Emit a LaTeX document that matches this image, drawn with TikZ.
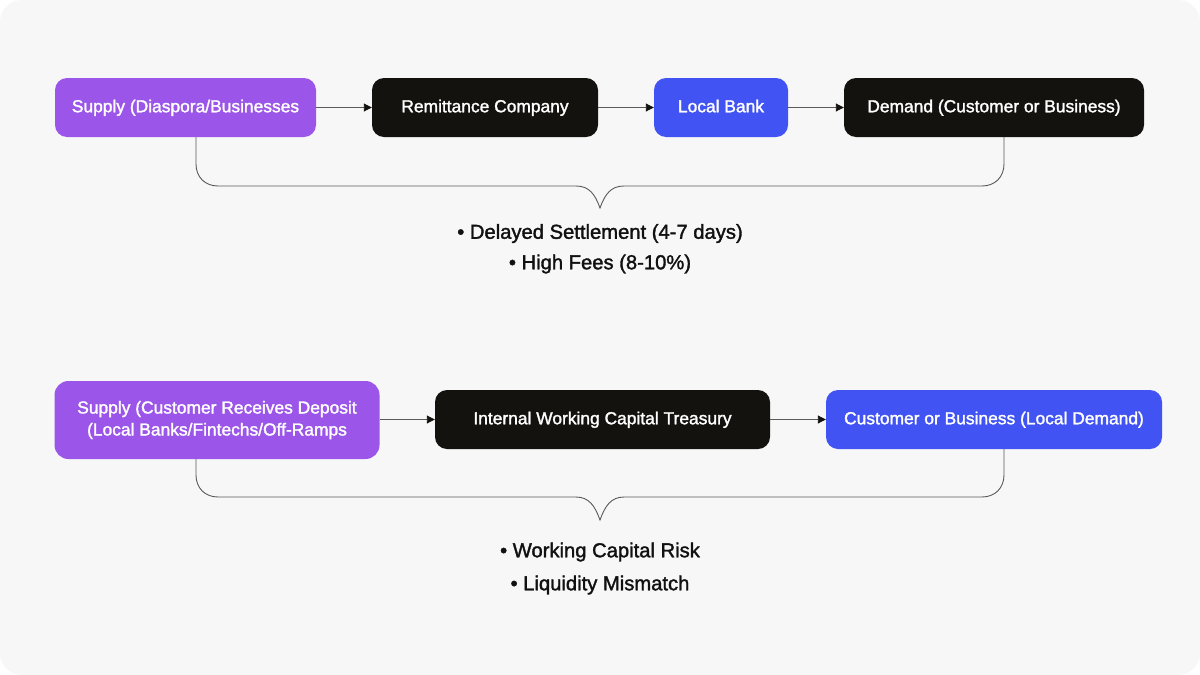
\documentclass[tikz,border=0pt]{standalone}
\usepackage{fontspec}
\setmainfont{Liberation Sans}
\newfontfamily\medfont{Liberation Sans}[FakeBold=1.6]
\usetikzlibrary{arrows.meta,calc}
\definecolor{bgc}{HTML}{F7F7F7}
\definecolor{purp}{HTML}{9B56E9}
\definecolor{blk}{HTML}{13120E}
\definecolor{blu}{HTML}{4153F3}
\definecolor{linec}{HTML}{5A5A5A}
\definecolor{txt}{HTML}{111111}
\tikzset{
  boxbase/.style={rounded corners=12pt, inner sep=0pt, text=white,
    font=\medfont\fontsize{17.4}{22}\selectfont, align=center},
  box/.style={boxbase, text height=13pt, text depth=3.5pt},
  pbox/.style={box, fill=purp},
  kbox/.style={box, fill=blk},
  bbox/.style={box, fill=blu},
  pbox2/.style={boxbase, fill=purp},
  flow/.style={draw=linec, line width=0.9pt,
    -{Triangle[length=8pt,width=8pt,color=blk]}},
  brace/.style={draw=linec, line width=0.9pt},
  note/.style={text=txt, font=\medfont\fontsize{20.2}{22}\selectfont, inner sep=0pt,
    text height=14.5pt, text depth=4pt}
}
\begin{document}
\begin{tikzpicture}[x=1pt,y=-1pt]
\useasboundingbox (0,0) rectangle (1200,675);
\fill[bgc, rounded corners=22pt] (0,0) rectangle (1200,675);

% row 1
\node[pbox, minimum width=261pt, minimum height=59pt] (sup1) at (185.5,107.5) {Supply (Diaspora/Businesses};
\node[kbox, minimum width=226pt, minimum height=59pt] (rem) at (485,107.5) {Remittance Company};
\node[bbox, minimum width=134pt, minimum height=59pt] (bank) at (721,107.5) {Local Bank};
\node[kbox, minimum width=300pt, minimum height=59pt] (dem) at (994,107.5) {Demand (Customer or Business)};
\draw[flow] (sup1) -- (rem);
\draw[flow] (rem) -- (bank);
\draw[flow] (bank) -- (dem);

\coordinate (xl) at (196,0);
\coordinate (xr) at (1004,0);
\draw[brace] (sup1.south -| xl) -- (196,164)
  .. controls (196,177) and (205,186) .. (218,186) -- (576,186)
  .. controls (589,186) and (595,194) .. (600,208)
  .. controls (605,194) and (611,186) .. (624,186) -- (982,186)
  .. controls (995,186) and (1004,177) .. (1004,164) -- (dem.south -| xr);

\node[note] (n1) at (600,233.5) {• Delayed Settlement (4-7 days)};
\node[note] (n2) at (600,264) {• High Fees (8-10\%)};

% row 2
\node[pbox2, rounded corners=14pt, minimum width=325pt, minimum height=78pt] (sup2) at (217,420) {Supply (Customer Receives Deposit\\(Local Banks/Fintechs/Off-Ramps};
\node[kbox, minimum width=335pt, minimum height=59pt] (itr) at (602.5,419.5) {Internal Working Capital Treasury};
\node[bbox, minimum width=336pt, minimum height=59pt] (cust) at (994,419.5) {Customer or Business (Local Demand)};
\draw[flow] (sup2.east |- itr) -- (itr);
\draw[flow] (itr) -- (cust);

\draw[brace] (sup2.south -| xl) -- (196,475)
  .. controls (196,488) and (205,497) .. (218,497) -- (576,497)
  .. controls (589,497) and (595,506) .. (600,520)
  .. controls (605,506) and (611,497) .. (624,497) -- (982,497)
  .. controls (995,497) and (1004,488) .. (1004,475) -- (cust.south -| xr);

\node[note] (n3) at (600,552) {• Working Capital Risk};
\node[note] (n4) at (600,585) {• Liquidity Mismatch};
\end{tikzpicture}
\end{document}
